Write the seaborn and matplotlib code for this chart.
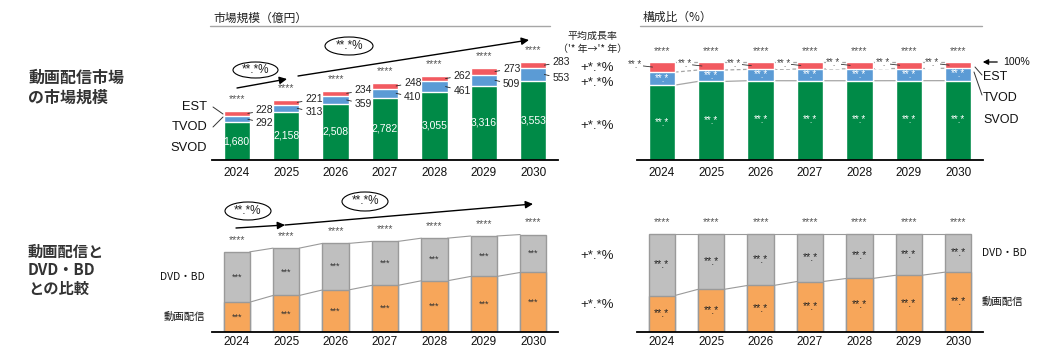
# -*- coding: utf-8 -*-
# Video distribution market: size / composition, and comparison with DVD/BD

# %% libraries
import matplotlib
matplotlib.use('Agg')
import matplotlib.pyplot as plt
from matplotlib.lines import Line2D
from matplotlib.patches import Ellipse, FancyArrowPatch
import seaborn as sns
import pandas as pd

# %% data (億円)
years = ['2024', '2025', '2026', '2027', '2028', '2029', '2030']
svod = [1680, 2158, 2508, 2782, 3055, 3316, 3553]
tvod = [292, 313, 359, 410, 461, 509, 553]
est = [228, 221, 234, 248, 262, 273, 283]
dvd_bd = [3710, 3490, 3430, 3240, 3140, 2980, 2795]

df = pd.DataFrame({'year': years, 'svod': svod, 'tvod': tvod,
                   'est': est, 'dvd_bd': dvd_bd})
df['svod_tvod'] = df['svod'] + df['tvod']
df['video'] = df['svod_tvod'] + df['est']
df['all'] = df['video'] + df['dvd_bd']
# composition (%)
df['svod_pct'] = df['svod'] / df['video'] * 100
df['svod_tvod_pct'] = df['svod_tvod'] / df['video'] * 100
df['est_pct'] = 100.0
df['video_pct'] = df['video'] / df['all'] * 100
df['all_pct'] = 100.0

# %% style
GREEN, BLUE, RED = '#008A47', '#5B9BD5', '#F25A60'
GREY, ORANGE, EDGE = '#BFBFBF', '#F7A65A', '#9A9A9A'
JP = ['Noto Sans CJK JP', 'DejaVu Sans']
LAT = ['Liberation Sans', 'DejaVu Sans']
NAR = ['Liberation Sans Narrow', 'Liberation Sans', 'DejaVu Sans']

sns.set_style('white')
plt.rcParams['font.family'] = JP

W_PX, H_PX = 1040, 353
BW = 0.53


def P(x, y):
    # pixel position (from top-left) -> figure fraction
    return x / W_PX, 1 - y / H_PX


def add_ax(left, top, right, bottom):
    return fig.add_axes([left / W_PX, 1 - bottom / H_PX,
                         (right - left) / W_PX, (bottom - top) / H_PX])


def line(x0, y0, x1, y1, **kw):
    kw.setdefault('color', '#333333')
    kw.setdefault('lw', 0.7)
    fig.add_artist(Line2D([x0 / W_PX, x1 / W_PX], [1 - y0 / H_PX, 1 - y1 / H_PX],
                          transform=fig.transFigure, **kw))


def layer(ax, col, color, edge, lw):
    sns.barplot(data=df, x='year', y=col, color=color, width=BW,
                saturation=1, edgecolor=edge, linewidth=lw,
                errorbar=None, ax=ax)


def tidy(ax, top, pad):
    ax.set_xlim(-0.5, 6.5)
    ax.set_ylim(0, top)
    ax.set_xlabel('')
    ax.set_ylabel('')
    ax.set_yticks([])
    for s in ['top', 'left', 'right']:
        ax.spines[s].set_visible(False)
    ax.spines['bottom'].set_color('black')
    ax.spines['bottom'].set_linewidth(1.3)
    ax.tick_params(axis='x', length=0, pad=pad)
    for t in ax.get_xticklabels():
        t.set_family(NAR)
        t.set_fontsize(8.5)
        t.set_color('#111111')


def connect(ax, col, **kw):
    kw.setdefault('color', '#A6A6A6')
    kw.setdefault('lw', 0.9)
    v = df[col].values
    for i in range(len(v) - 1):
        ax.plot([i + BW / 2, i + 1 - BW / 2], [v[i], v[i + 1]], zorder=0.5, **kw)


def stars(ax, col, s='****', off=12):
    for i, v in enumerate(df[col]):
        ax.annotate(s, (i, v), xytext=(0, off), textcoords='offset pixels',
                    ha='center', va='center', fontsize=7.5, color='#555555',
                    family=LAT)


# %% figure
fig = plt.figure(figsize=(10.4, 3.53), dpi=100)

# ---------------- top-left: market size
ax1 = add_ax(212, 26, 558, 160)
layer(ax1, 'video', RED, 'white', 1)
layer(ax1, 'svod_tvod', BLUE, 'white', 1)
layer(ax1, 'svod', GREEN, 'white', 1)
tidy(ax1, 6000, 5)
stars(ax1, 'video')
for i, r in df.iterrows():
    ax1.text(i, r['svod'] / 2, f"{r['svod']:,}", ha='center', va='center',
             color='white', fontsize=7.5, family=NAR)
    ax1.annotate(f"{r['est']}", (i + BW / 2 - 0.04, r['svod_tvod'] + r['est'] / 2),
                 xytext=(8, 3), textcoords='offset pixels', ha='left', va='center',
                 fontsize=7.5, family=NAR, color='#222222',
                 arrowprops=dict(arrowstyle='-', lw=0.6, color='#222222',
                                 shrinkA=0, shrinkB=0))
    ax1.annotate(f"{r['tvod']}", (i + BW / 2 - 0.04, r['svod'] + r['tvod'] / 2),
                 xytext=(8, -4), textcoords='offset pixels', ha='left', va='center',
                 fontsize=7.5, family=NAR, color='#222222',
                 arrowprops=dict(arrowstyle='-', lw=0.6, color='#222222',
                                 shrinkA=0, shrinkB=0))

# ---------------- top-right: composition
ax2 = add_ax(637, 26, 983, 160)
layer(ax2, 'est_pct', RED, 'white', 1)
layer(ax2, 'svod_tvod_pct', BLUE, 'white', 1)
layer(ax2, 'svod_pct', GREEN, 'white', 1)
tidy(ax2, 136.7, 5)
stars(ax2, 'est_pct', off=11)
connect(ax2, 'est_pct', ls=(0, (3, 2)))
connect(ax2, 'svod_tvod_pct', ls=(0, (3, 2)))
connect(ax2, 'svod_pct')
for i, r in df.iterrows():
    ax2.text(i, r['svod_pct'] / 2, '**.*', ha='center', va='center',
             color='white', fontsize=7, family=LAT)
    ax2.text(i, (r['svod_pct'] + r['svod_tvod_pct']) / 2, '**.*', ha='center',
             va='center', color='white', fontsize=7, family=LAT)
    ax2.annotate('**.*', (i - BW / 2 + 0.08, (100 + r['svod_tvod_pct']) / 2),
                 xytext=(-10, 2), textcoords='offset pixels', ha='right',
                 va='center', fontsize=7, family=LAT, color='#444444',
                 bbox=dict(fc='white', ec='none', pad=0.3),
                 arrowprops=dict(arrowstyle='-', lw=0.6, color='#333333',
                                 shrinkA=0, shrinkB=0))

# ---------------- bottom-left: video vs DVD/BD
ax3 = add_ax(212, 195, 558, 332)
layer(ax3, 'all', GREY, EDGE, 1)
layer(ax3, 'video', ORANGE, EDGE, 1)
tidy(ax3, 10100, 3)
stars(ax3, 'all')
connect(ax3, 'all', color=EDGE, lw=0.8)
connect(ax3, 'video', color=EDGE, lw=0.8)
for i, r in df.iterrows():
    ax3.text(i, r['video'] / 2, '***', ha='center', va='center',
             fontsize=6.5, color='#333333', family=LAT)
    ax3.text(i, r['video'] + r['dvd_bd'] / 2, '***', ha='center', va='center',
             fontsize=6.5, color='#333333', family=LAT)

# ---------------- bottom-right: composition
ax4 = add_ax(637, 198, 983, 332)
layer(ax4, 'all_pct', GREY, EDGE, 1)
layer(ax4, 'video_pct', ORANGE, EDGE, 1)
tidy(ax4, 136.7, 3)
stars(ax4, 'all_pct')
connect(ax4, 'all_pct', color=EDGE, lw=0.8)
connect(ax4, 'video_pct', color=EDGE, lw=0.8)
for i, r in df.iterrows():
    ax4.text(i, r['video_pct'] / 2, '**.*', ha='center', va='center',
             fontsize=7.5, color='#222222', family=LAT)
    ax4.text(i, (r['video_pct'] + 100) / 2, '**.*', ha='center', va='center',
             fontsize=7.5, color='#222222', family=LAT)

# %% headers and side texts
fig.text(*P(213, 18), '市場規模（億円）', fontsize=8.5, va='center', color='#222222')
line(210, 26, 550, 26, color='#A6A6A6', lw=1)
fig.text(*P(643, 17), '構成比（%）', fontsize=8.5, va='center', color='#222222')
line(640, 26, 982, 26, color='#A6A6A6', lw=1)

fig.text(*P(28, 88), '動画配信市場\nの市場規模', fontsize=11.5, fontweight='bold',
         va='center', color='#333333', linespacing=1.25)
fig.text(*P(28, 270), '動画配信と\nDVD・BD\nとの比較', fontsize=11, fontweight='bold',
         va='center', color='#333333', linespacing=1.2)

# legend-like labels, top-left
for lab, y in [('EST', 107), ('TVOD', 127), ('SVOD', 148)]:
    fig.text(*P(207, y), lab, fontsize=9.3, family=LAT, ha='right', va='center',
             color='#111111')
line(213, 107, 223, 114)
line(213, 127, 223, 117)

# legend-like labels, top-right
for lab, y in [('EST', 77), ('TVOD', 98), ('SVOD', 120)]:
    fig.text(*P(983, y), lab, fontsize=9, family=LAT, ha='left', va='center',
             color='#111111')
line(975, 67, 982, 75)
line(974, 72, 982, 95)
fig.add_artist(FancyArrowPatch(P(1000, 62), P(980, 62), transform=fig.transFigure,
                               arrowstyle='-|>', mutation_scale=8, lw=0.9,
                               color='black'))
fig.text(*P(1003, 62), '100%', fontsize=7.6, family=LAT, va='center', color='#111111')

# legend-like labels, bottom
fig.text(*P(205, 277), 'DVD・BD', fontsize=7.5, ha='right', va='center', color='#111111')
fig.text(*P(205, 317), '動画配信', fontsize=7.5, ha='right', va='center', color='#111111')
fig.text(*P(982, 253), 'DVD・BD', fontsize=7.5, ha='left', va='center', color='#111111')
fig.text(*P(982, 302), '動画配信', fontsize=7.5, ha='left', va='center', color='#111111')

# average growth rate column
fig.text(*P(593, 36), '平均成長率', fontsize=7.2, ha='center', va='center', color='#222222')
fig.text(*P(593, 49), "（'* 年→'* 年）", fontsize=7.2, ha='center', va='center',
         color='#222222')
for y in [68, 83, 126, 256, 305]:
    fig.text(*P(597, y), '+*.*%', fontsize=9.5, family=LAT, ha='center', va='center',
             color='#222222')

# %% growth arrows with ellipses
arrows = [((237, 88), (287, 79)), ((298, 76), (529, 40)),
          ((236, 228), (285, 225)), ((285, 225), (533, 204))]
for a, b in arrows:
    fig.add_artist(FancyArrowPatch(P(*a), P(*b), transform=fig.transFigure,
                                   arrowstyle='-|>', mutation_scale=11, lw=1,
                                   color='black', shrinkA=0, shrinkB=0))
ellipses = [(255.5, 70, 45, 16), (349, 46, 48, 18),
            (248, 211, 46, 18), (365, 201.5, 46, 19)]
for cx, cy, w, h in ellipses:
    fig.add_artist(Ellipse(P(cx, cy), w / W_PX, h / H_PX, transform=fig.transFigure,
                           fill=False, ec='black', lw=0.8))
    fig.text(*P(cx, cy), '**.*%', fontsize=8.5, family=LAT, ha='center',
             va='center', color='#222222')

# %% save
plt.savefig('out.png', dpi=100)
